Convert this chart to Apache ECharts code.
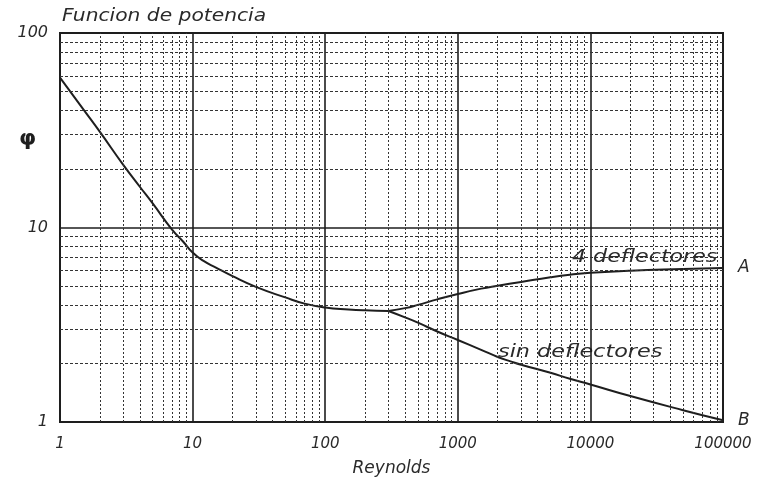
<!DOCTYPE html>
<html>
<head>
<meta charset="utf-8">
<script src="https://cdn.jsdelivr.net/npm/echarts@6/dist/echarts.min.js"></script>
<style>
  html, body { margin: 0; padding: 0; background: #fff; }
  #chart { width: 760px; height: 482px; }
</style>
</head>
<body>
<div id="chart"></div>
<script>
// Power number (phi) versus Reynolds number, log-log
const baseRe  = [1, 1.5, 2, 3, 4, 5, 7, 8.5, 10, 12, 15, 20, 30, 50, 70, 100, 150, 200, 300];
const basePhi = [59, 40.5, 31, 21, 16.2, 13.3, 9.75, 8.45, 7.43, 6.75, 6.22, 5.62, 4.95, 4.37, 4.06, 3.88, 3.79, 3.75, 3.72];

// With 4 baffles (curve A)
const baffledRe  = [300, 400, 500, 700, 1000, 1500, 2000, 3000, 5000, 7000, 10000, 20000, 50000, 100000];
const baffledPhi = [3.72, 3.85, 4.0, 4.27, 4.55, 4.85, 5.02, 5.25, 5.55, 5.72, 5.85, 6.0, 6.12, 6.2];

// Without baffles (curve B)
const unbaffledRe  = [300, 400, 500, 700, 1000, 1500, 2000, 2500, 3000, 5000, 7000, 10000, 20000, 50000, 100000];
const unbaffledPhi = [3.72, 3.45, 3.24, 2.92, 2.64, 2.35, 2.16, 2.05, 1.97, 1.79, 1.67, 1.56, 1.36, 1.15, 1.02];

// Axis tick labels
const xTickLabels = ['1', '10', '100', '1000', '10000', '100000'];
const yTickLabels = ['1', '10', '100'];

// Log-paper minor grid: 2..9 within each decade
const xDecades = [1, 10, 100, 1000, 10000];
const yDecades = [1, 10];
const minorSteps = [2, 3, 4, 5, 6, 7, 8, 9];

const ink = '#1e1e1e';
const textInk = '#2a2a2a';
const family = 'DejaVu Sans, sans-serif';
const labelFont = { fontFamily: family, fontStyle: 'italic', color: textInk };

const pairs = (xs, ys) => xs.map((x, i) => [x, ys[i]]);
const minorX = [];
xDecades.forEach(d => minorSteps.forEach(m => minorX.push({ xAxis: d * m })));
const minorY = [];
yDecades.forEach(d => minorSteps.forEach(m => minorY.push({ yAxis: d * m })));

const curveStyle = { color: ink, width: 2 };

// Wide plotter-style lettering: italic text stretched horizontally
function wideText(text, x, y, size, stretch) {
  return {
    type: 'text', x: x, y: y, scaleX: stretch, scaleY: 1,
    style: {
      text: text, fontSize: size, fontStyle: 'italic', fontFamily: family,
      fill: textInk, textAlign: 'left', textVerticalAlign: 'middle'
    }
  };
}

const chart = echarts.init(document.getElementById('chart'), null, { renderer: 'canvas' });

chart.setOption({
  backgroundColor: '#fff',
  animation: false,
  grid: {
    left: 60, top: 33, right: 37, bottom: 57,
    show: true, borderColor: ink, borderWidth: 2, backgroundColor: 'transparent'
  },
  xAxis: {
    type: 'log', logBase: 10, min: 1, max: 100000,
    axisLine: { show: true, lineStyle: { color: ink, width: 2 } },
    axisTick: { show: false },
    splitLine: { show: true, lineStyle: { color: ink, width: 1.6 } },
    axisLabel: Object.assign({}, labelFont, {
      fontSize: 15, margin: 15,
      formatter: v => xTickLabels[Math.round(Math.log10(v))]
    }),
    name: 'Reynolds', nameLocation: 'middle', nameGap: 38,
    nameTextStyle: Object.assign({}, labelFont, { fontSize: 17 })
  },
  yAxis: {
    type: 'log', logBase: 10, min: 1, max: 100,
    axisLine: { show: true, lineStyle: { color: ink, width: 2 } },
    axisTick: { show: false },
    splitLine: { show: true, lineStyle: { color: ink, width: 1.6 } },
    axisLabel: Object.assign({}, labelFont, {
      fontSize: 16, margin: 12,
      formatter: v => yTickLabels[Math.round(Math.log10(v))]
    })
  },
  graphic: [
    wideText('Funcion de potencia', 62, 17, 17, 1.19),
    wideText('4 deflectores', 572, 257, 18, 1.23),
    wideText('sin deflectores', 498, 352, 18, 1.24),
    {
      type: 'text', left: 19, top: 128,
      style: { text: 'φ', fontSize: 22, fontWeight: 'bold', fontFamily: family, fill: ink }
    }
  ],
  series: [
    {
      name: 'grid-x', type: 'line', data: [], silent: true,
      markLine: {
        symbol: 'none', silent: true, animation: false,
        label: { show: false },
        lineStyle: { color: '#333', width: 1, type: [2, 2] },
        data: minorX
      }
    },
    {
      name: 'grid-y', type: 'line', data: [], silent: true,
      markLine: {
        symbol: 'none', silent: true, animation: false,
        label: { show: false },
        lineStyle: { color: '#333', width: 1, type: [3, 2] },
        data: minorY
      }
    },
    {
      name: 'base', type: 'line', smooth: 0.5, symbol: 'none',
      lineStyle: curveStyle,
      data: pairs(baseRe, basePhi)
    },
    {
      name: '4 deflectores', type: 'line', smooth: 0.5, symbol: 'none',
      lineStyle: curveStyle,
      data: pairs(baffledRe, baffledPhi),
      endLabel: { show: true, formatter: 'A', distance: 15, fontSize: 17, ...labelFont }
    },
    {
      name: 'sin deflectores', type: 'line', smooth: 0.5, symbol: 'none',
      lineStyle: curveStyle,
      data: pairs(unbaffledRe, unbaffledPhi),
      endLabel: { show: true, formatter: 'B', distance: 15, fontSize: 17, ...labelFont }
    }
  ]
});
</script>
</body>
</html>
